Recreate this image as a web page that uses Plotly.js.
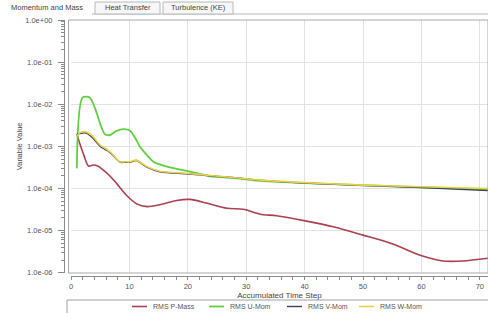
<!DOCTYPE html>
<html>
<head>
<meta charset="utf-8">
<script src="https://cdn.plot.ly/plotly-3.0.1.min.js"></script>
<style>
html,body{margin:0;padding:0;background:#fff;}
#chart{width:488px;height:313px;}
</style>
</head>
<body>
<div id="chart"></div>
<script>
// ---- data ----
var seriesNames = ["RMS P-Mass", "RMS U-Mom", "RMS V-Mom", "RMS W-Mom"];
var tabLabels = ["Momentum and Mass", "Heat Transfer", "Turbulence (KE)"];
var yTickVals = [1, 0.1, 0.01, 0.001, 0.0001, 0.00001, 0.000001];
var yTickText = ["1.0e+00", "1.0e-01", "1.0e-02", "1.0e-03", "1.0e-04", "1.0e-05", "1.0e-06"];

var pMassX = [1, 1.5, 2.2, 3.0, 3.8, 4.6, 5.5, 6.7, 7.8, 9.5, 11.25, 13, 15.2, 18.1, 20.4, 23.2, 26.7, 29.5, 32.4, 35.2, 40.1, 44.9, 50, 55.1, 59.8, 63.7, 67.1, 71.4];
var pMassY = [1.95e-3, 1.17e-3, 6.2e-4, 3.4e-4, 3.6e-4, 3.4e-4, 2.75e-4, 1.95e-4, 1.32e-4, 6.9e-5, 4.3e-5, 3.7e-5, 4.1e-5, 5.2e-5, 5.5e-5, 4.5e-5, 3.4e-5, 3.2e-5, 2.45e-5, 2.25e-5, 1.7e-5, 1.23e-5, 7.8e-6, 4.8e-6, 2.6e-6, 1.9e-6, 1.9e-6, 2.2e-6];

var uMomX = [1, 2, 3.2, 4.1, 5.8, 6.7, 7.7, 9, 10.1, 11, 11.8, 13, 14.1, 16.4, 19.8, 23.8, 27.7, 32.4, 40, 50, 60, 71.4];
var uMomY = [3.0e-4, 1.45e-2, 1.45e-2, 8.1e-3, 1.95e-3, 1.86e-3, 2.3e-3, 2.57e-3, 2.35e-3, 1.58e-3, 9.8e-4, 6.2e-4, 4.3e-4, 3.3e-4, 2.63e-4, 1.95e-4, 1.78e-4, 1.51e-4, 1.35e-4, 1.2e-4, 1.07e-4, 9.5e-5];

var vMomX = [1, 1.5, 2.4, 3.5, 5, 5.8, 6.7, 8.4, 9.2, 10.1, 11.2, 13, 15.2, 19.8, 23.8, 27.7, 32.4, 40, 50, 60, 71.4];
var vMomY = [2.0e-3, 2.0e-3, 2.09e-3, 1.7e-3, 1.0e-3, 8.5e-4, 7.1e-4, 4.2e-4, 4.2e-4, 4.2e-4, 4.6e-4, 3.2e-4, 2.5e-4, 2.24e-4, 2.0e-4, 1.82e-4, 1.58e-4, 1.35e-4, 1.17e-4, 1.05e-4, 8.9e-5];

var wMomX = [1, 1.5, 2.4, 3.5, 5, 5.8, 6.7, 8.4, 9.2, 10.1, 11.2, 13, 15.2, 19.8, 23.8, 27.7, 32.4, 40, 50, 60, 71.4];
var wMomY = [1.74e-3, 2.09e-3, 2.24e-3, 1.86e-3, 1.07e-3, 9.1e-4, 7.4e-4, 4.3e-4, 4.3e-4, 4.3e-4, 4.7e-4, 3.3e-4, 2.57e-4, 2.29e-4, 2.04e-4, 1.82e-4, 1.58e-4, 1.38e-4, 1.2e-4, 1.1e-4, 1.0e-4];

var colors = ["#a8404e", "#5fcf3f", "#3c3f5c", "#e6d24a"];

// ---- layout helpers (pixel -> paper) ----
var W = 488, H = 313, ML = 64, MR = 0, MT = 20, MB = 37;
var PW = W - ML - MR, PH = H - MT - MB;
function px(x){ return (x - ML) / PW; }
function py(y){ return (H - MB - y) / PH; }

var FONT = "Liberation Sans, Arial, sans-serif";
var legendIds = ["legend", "legend2", "legend3", "legend4"];
var legendLeft = [113, 190, 268, 340];

function tr(i, xs, ys, w){
  return {x: xs, y: ys, name: seriesNames[i], type: "scatter", mode: "lines",
    legend: legendIds[i],
    line: {color: colors[i], width: w, shape: "spline", smoothing: 0.8}};
}
var data = [
  tr(0, pMassX, pMassY, 1.6),
  tr(1, uMomX, uMomY, 1.8),
  tr(2, vMomX, vMomY, 1.4),
  tr(3, wMomX, wMomY, 1.6)
];

var shapes = [
  // plot frame
  {type:"rect", xref:"paper", yref:"paper", x0:px(68.5), x1:px(488), y0:py(273), y1:py(20),
   line:{color:"#a8a8a8", width:1}, layer:"above"},
  // legend box
  {type:"rect", xref:"paper", yref:"paper", x0:px(67), x1:px(490), y0:py(314), y1:py(300),
   line:{color:"#a0a0a0", width:1}},
  // tab strip bottom line
  {type:"line", xref:"paper", yref:"paper", x0:px(92), x1:px(488), y0:py(14), y1:py(14),
   line:{color:"#b8b8b8", width:1}},
  // inactive tabs
  {type:"rect", xref:"paper", yref:"paper", x0:px(95), x1:px(160), y0:py(14), y1:py(2),
   line:{color:"#b8b8b8", width:1}, fillcolor:"#f7f7f7"},
  {type:"rect", xref:"paper", yref:"paper", x0:px(163), x1:px(233), y0:py(14), y1:py(2),
   line:{color:"#b8b8b8", width:1}, fillcolor:"#f7f7f7"}
];

var tabX = [47, 128, 198];
var annotations = tabLabels.map(function(t, i){
  return {text: t, xref:"paper", yref:"paper", x: px(tabX[i]), y: py(7.5),
    showarrow:false, xanchor:"center", yanchor:"middle",
    font:{family: FONT, size: 7.5, color:"#444"}};
});

var layout = {
  width: W, height: H,
  margin: {l: ML, r: MR, t: MT, b: MB, pad: 0, autoexpand: false},
  paper_bgcolor: "#ffffff", plot_bgcolor: "#ffffff",
  font: {family: FONT, size: 7, color: "#555"},
  showlegend: true,
  xaxis: {
    range: [0, 71.4], domain: [px(71), 1], anchor: "free", position: 0,
    showline: true, linecolor: "#8a8a8a", linewidth: 1,
    ticks: "outside", ticklen: 3, tickcolor: "#8a8a8a", dtick: 10, tick0: 0,
    minor: {dtick: 2, ticks: "outside", ticklen: 2.5, tickcolor: "#8a8a8a", showgrid: false},
    showgrid: true, gridcolor: "#e2e2e2", zeroline: false,
    ticklabelstandoff: 0,
    tickfont: {family: FONT, size: 7.5, color: "#555"},
    title: {text: "Accumulated Time Step", standoff: 0, font: {family: FONT, size: 8, color: "#444"}}
  },
  yaxis: {
    type: "log", range: [-6, 0], domain: [py(272.7), 1], anchor: "free", position: 0,
    showline: true, linecolor: "#8a8a8a", linewidth: 1,
    ticks: "outside", ticklen: 6, tickcolor: "#8a8a8a",
    tickmode: "array", tickvals: yTickVals, ticktext: yTickText,
    minor: {dtick: "D1", ticks: "outside", ticklen: 3, tickcolor: "#8a8a8a", showgrid: false},
    showgrid: true, gridcolor: "#e2e2e2", zeroline: false,
    ticklabelstandoff: 4,
    tickfont: {family: FONT, size: 7.5, color: "#555"},
    title: {text: "Variable Value", standoff: 0, font: {family: FONT, size: 7.5, color: "#444"}}
  },
  shapes: shapes,
  annotations: annotations
};
legendIds.forEach(function(id, i){
  layout[id] = {orientation: "h", x: px(legendLeft[i]), xanchor: "left", y: py(306.5), yanchor: "middle",
    font: {family: FONT, size: 7, color: "#555"}, bgcolor: "rgba(0,0,0,0)", itemwidth: 30};
});

Plotly.newPlot("chart", data, layout, {displayModeBar: false, staticPlot: true}).then(function(gd){
  // shorter legend swatches, as in the reference
  gd.querySelectorAll(".legendlines path").forEach(function(p){
    p.setAttribute("d", "M19,0h15");
  });
});
</script>
</body>
</html>
